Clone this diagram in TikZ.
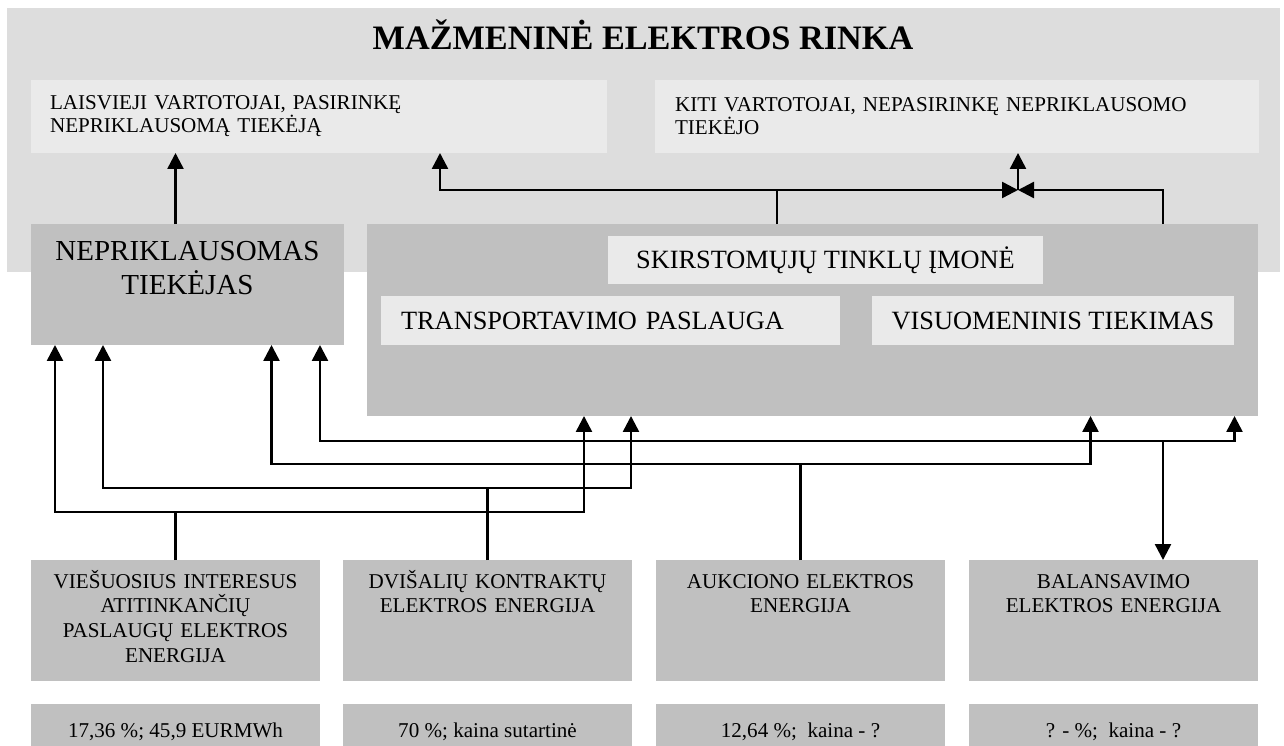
\documentclass[tikz,border=0pt]{standalone}
\usepackage{fontspec}
\setmainfont{Liberation Serif}
\usepackage{tikz}
\usetikzlibrary{arrows.meta,positioning,calc}
\usepackage{xcolor}
\definecolor{MarketGray}{HTML}{DDDDDD}
\definecolor{PaleGray}{HTML}{EAEAEA}
\definecolor{BoxGray}{HTML}{C0C0C0}

\begin{document}
\begin{tikzpicture}[x=0.02cm,y=-0.02cm,
    every node/.style={inner sep=0pt,outer sep=0pt},
    marketbox/.style={rectangle,fill=MarketGray},
    darkbox/.style={rectangle,fill=BoxGray},
    palebox/.style={rectangle,fill=PaleGray},
    smalltext/.style={font=\fontsize{12}{14.2}\selectfont},
    bigtext/.style={font=\fontsize{15}{18}\selectfont},
    wire/.style={line width=1.4pt},
    arr/.style={wire,-{Triangle[width=0.32cm,length=0.32cm]}}]
  \useasboundingbox (0,0) rectangle (1284,746);

  % the retail market
  \node[marketbox,minimum width=25.46cm,minimum height=5.28cm] (rinka) at (643.5,140) {};
  \node[anchor=base,font=\bfseries\fontsize{19.5}{23}\selectfont] (title) at (643,50)
    {MAŽMENINĖ ELEKTROS RINKA};
  \node[palebox,minimum width=11.52cm,minimum height=1.46cm,
        inner xsep=0.38cm,text width=10.76cm,align=left,
        font=\fontsize{12}{13.2}\selectfont] (laisv) at (319,116.5)
    {LAISVIEJI VARTOTOJAI, PASIRINKĘ\\NEPRIKLAUSOMĄ TIEKĖJĄ};
  \node[palebox,minimum width=12.08cm,minimum height=1.46cm,
        inner xsep=0.4cm,text width=11.28cm,align=left,
        font=\fontsize{12}{13.2}\selectfont] (kiti) at (957,116.5)
    {KITI VARTOTOJAI, NEPASIRINKĘ NEPRIKLAUSOMO\\TIEKĖJO};

  % suppliers
  \node[darkbox,minimum width=6.26cm,minimum height=2.42cm] (nepr) at (187.5,284.5) {};
  \node[anchor=base,text width=6.26cm,align=center,
        font=\fontsize{16.5}{19.3}\selectfont] (neprT) at (187.5,261)
    {NEPRIKLAUSOMAS\\TIEKĖJAS};
  \node[darkbox,minimum width=17.82cm,minimum height=3.84cm] (sk) at (812.5,320) {};
  \node[palebox,bigtext,minimum width=8.7cm,minimum height=0.96cm] (sklbl) at (825.5,260)
    {SKIRSTOMŲJŲ TINKLŲ ĮMONĖ};
  \node[palebox,bigtext,minimum width=9.18cm,minimum height=0.98cm,
        inner xsep=0.4cm,text width=8.38cm,align=left] (transp) at (610.5,320.5)
    {TRANSPORTAVIMO PASLAUGA};
  \node[palebox,bigtext,minimum width=7.24cm,minimum height=0.98cm] (visuom) at (1053,320.5)
    {VISUOMENINIS TIEKIMAS};

  % energy sources
  \node[darkbox,minimum width=5.78cm,minimum height=2.42cm] (vies) at (175.5,620.5) {};
  \node[darkbox,minimum width=5.78cm,minimum height=2.42cm] (dvi)  at (487.5,620.5) {};
  \node[darkbox,minimum width=5.78cm,minimum height=2.42cm] (auk)  at (800.5,620.5) {};
  \node[darkbox,minimum width=5.78cm,minimum height=2.42cm] (bal)  at (1113.5,620.5) {};
  \node[smalltext,anchor=base,text width=5.78cm,align=center] (viesT) at (175.5,588)
    {VIEŠUOSIUS INTERESUS\\ATITINKANČIŲ\\PASLAUGŲ ELEKTROS\\ENERGIJA};
  \node[smalltext,anchor=base,text width=5.78cm,align=center] (dviT) at (487.5,588)
    {DVIŠALIŲ KONTRAKTŲ\\ELEKTROS ENERGIJA};
  \node[smalltext,anchor=base,text width=5.78cm,align=center] (aukT) at (800.5,588)
    {AUKCIONO ELEKTROS\\ENERGIJA};
  \node[smalltext,anchor=base,text width=5.78cm,align=center] (balT) at (1113.5,588)
    {BALANSAVIMO\\ELEKTROS ENERGIJA};

  % shares and prices
  \node[darkbox,smalltext,minimum width=5.78cm,minimum height=1.12cm] (viesV) at (175.5,732)
    {17,36 \%; 45,9 EURMWh};
  \node[darkbox,smalltext,minimum width=5.78cm,minimum height=1.12cm] (dviV) at (487.5,732)
    {70 \%; kaina sutartinė};
  \node[darkbox,smalltext,minimum width=5.78cm,minimum height=1.12cm] (aukV) at (800.5,732)
    {12,64 \%;\ \ kaina - ?};
  \node[darkbox,smalltext,minimum width=5.78cm,minimum height=1.12cm] (balV) at (1113.5,732)
    {? - \%;\ \ kaina - ?};

  % connectors into the market
  \coordinate (nepOut) at (175.5,190);
  \coordinate (skOutA) at (777,190);
  \coordinate (skOutB) at (1163,190);
  \coordinate (laisvIn) at (440,190);
  \coordinate (kitiIn) at (1018,190);
  \draw[arr] (nepOut |- nepr.north) -- (nepOut |- laisv.south);
  \draw[wire] (skOutA |- sk.north) -- (skOutA);
  \draw[arr] (skOutA) -- (laisvIn) -- (laisvIn |- laisv.south);
  \draw[arr] (skOutA) -- (kitiIn);
  \draw[arr] (skOutB |- sk.north) -- (skOutB) -- (kitiIn);
  \draw[arr] (kitiIn) -- (kitiIn |- kiti.south);

  % connectors from the sources
  \coordinate (nepA) at (55,0);
  \coordinate (nepB) at (103,0);
  \coordinate (nepC) at (271.5,0);
  \coordinate (nepD) at (320,0);
  \coordinate (skA) at (584,0);
  \coordinate (skB) at (631,0);
  \coordinate (skC) at (1090.5,0);
  \coordinate (skD) at (1234.5,0);
  \coordinate (viesBus) at (175.5,512);
  \coordinate (dviBus) at (487.5,488);
  \coordinate (aukBus) at (800.5,464);
  \coordinate (balBus) at (1163,441);
  \draw[wire] (vies.north) -- (viesBus);
  \draw[arr] (viesBus) -| (nepA |- nepr.south);
  \draw[arr] (viesBus) -| (skA |- sk.south);
  \draw[wire] (dvi.north) -- (dviBus);
  \draw[arr] (dviBus) -| (nepB |- nepr.south);
  \draw[arr] (dviBus) -| (skB |- sk.south);
  \draw[wire] (auk.north) -- (aukBus);
  \draw[arr] (aukBus) -| (nepC |- nepr.south);
  \draw[arr] (aukBus) -| (skC |- sk.south);
  \draw[arr] (balBus) -| (nepD |- nepr.south);
  \draw[arr] (balBus) -| (skD |- sk.south);
  \draw[arr] (balBus) -- (balBus |- bal.north);
\end{tikzpicture}
\end{document}
